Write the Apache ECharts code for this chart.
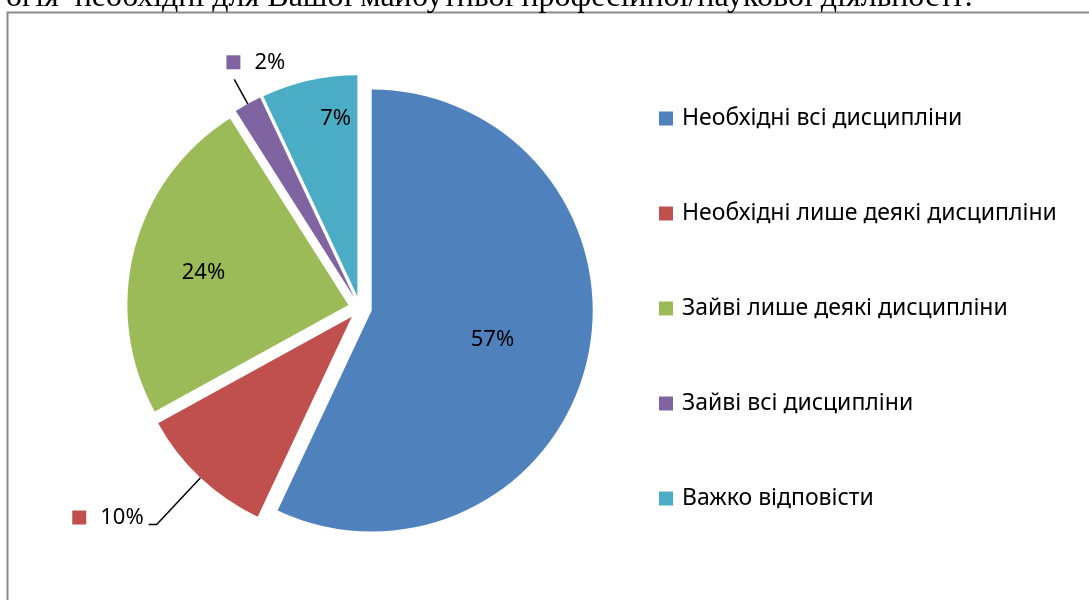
<!DOCTYPE html>
<html><head><meta charset="utf-8">
<script src="https://cdn.jsdelivr.net/npm/echarts@6/dist/echarts.min.js"></script>
<style>html,body{margin:0;padding:0;background:#fff}#chart{width:1089px;height:600px}</style>
</head><body><div id="chart"></div>
<script>
const categories = ['Необхідні всі дисципліни', 'Необхідні лише деякі дисципліни', 'Зайві лише деякі дисципліни', 'Зайві всі дисципліни', 'Важко відповісти'];
const values = [57, 10, 24, 2, 7];
const colors = ['#4F81BD', '#C0504D', '#9BBB59', '#8064A2', '#4BACC6'];
const titleText = 'огія  необхідні для Вашої майбутньої професійної/наукової діяльності?';

const FONT = 'Noto Sans';
const CX = 360, CY = 308, R = 221, OFF = 12;
// label styling: outside labels with leader lines, and small nudges from the default label spot
const outside = [false, true, false, true, false];
const leader = [null, [64, 8], null, [28, 0], null];
const labelNudge = [[10, 4], [0, -7], [-35, -4], [56, -17], [3, -67]];

function vPad(dy) { return Math.max(2, 2 * Math.abs(dy)); }

const data = values.map((v, i) => {
  const item = { name: categories[i], value: v, selected: true, itemStyle: { color: colors[i] } };
  const n = labelNudge[i];
  if (outside[i]) {
    const lh = vPad(n[1]);
    const main = '{sq|}{gap|}{v|{c}%}';
    item.label = {
      position: 'outside',
      distanceToLabelLine: 5 - n[0],
      formatter: n[1] < 0 ? main + '\n{e| }' : '{e| }\n' + main,
      rich: {
        sq: { width: 14, height: 14, backgroundColor: colors[i] },
        gap: { width: 14 },
        v: { fontSize: 22, fontFamily: FONT, color: '#000', lineHeight: lh },
        e: { height: lh, lineHeight: lh, fontSize: 2 }
      }
    };
    item.labelLine = { show: true, length: leader[i][0], length2: leader[i][1], lineStyle: { color: '#000', width: 1.5 } };
  } else {
    item.label = {
      position: 'inside',
      formatter: n[1] < 0 ? '{c}%\n ' : ' \n{c}%',
      lineHeight: vPad(n[1]),
      padding: [0, n[0] < 0 ? -2 * n[0] : 0, 0, n[0] > 0 ? 2 * n[0] : 0]
    };
    item.labelLine = { show: false };
  }
  return item;
});

const chart = echarts.init(document.getElementById('chart'), null, { renderer: 'canvas' });
chart.setOption({
  animation: false,
  backgroundColor: '#fff',
  title: {
    text: titleText, left: 6, top: -18, padding: 0,
    textStyle: { fontFamily: 'Liberation Serif', fontSize: 32, fontWeight: 'normal', color: '#000', lineHeight: 32 }
  },
  graphic: [{
    type: 'rect', left: 5, top: 10, silent: true,
    shape: { x: 0, y: 0, width: 1100, height: 620 },
    style: { fill: 'none', stroke: '#8c8c8c', lineWidth: 2 }
  }],
  legend: {
    orient: 'vertical', left: 659, top: 107, padding: 0,
    itemWidth: 14, itemHeight: 14, itemGap: 72, icon: 'rect',
    selectedMode: false,
    textStyle: { fontFamily: FONT, fontSize: 23, color: '#000', padding: [0, 0, 0, 4] },
    data: categories
  },
  series: [{
    type: 'pie',
    center: [CX, CY], radius: R,
    startAngle: 90, clockwise: true,
    selectedMode: 'multiple', selectedOffset: OFF,
    avoidLabelOverlap: false,
    emphasis: { disabled: true },
    label: { fontFamily: FONT, fontSize: 22, color: '#000' },
    data: data
  }]
});
</script></body></html>
